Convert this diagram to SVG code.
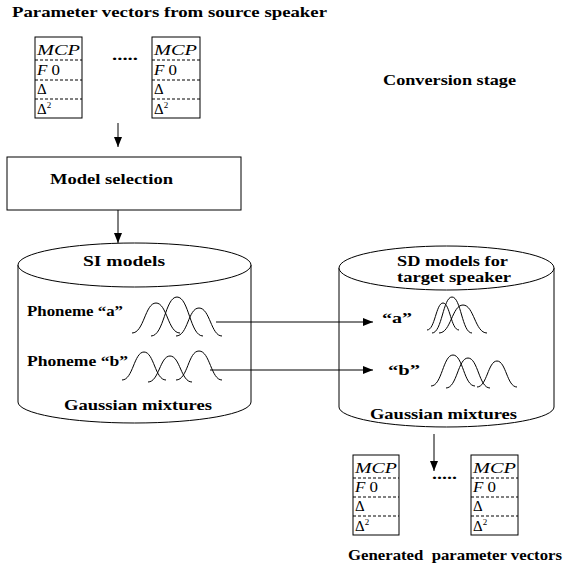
<svg xmlns="http://www.w3.org/2000/svg" width="575" height="570" viewBox="0 0 575 570">
<defs>
<marker id="ah" markerUnits="userSpaceOnUse" markerWidth="10" markerHeight="8" refX="10" refY="4" orient="auto">
<path d="M0,0 L10,4 L0,8 z" fill="#000"/>
</marker>
</defs>
<style>
.t{font-family:"Liberation Serif","Times New Roman",serif;font-weight:bold;font-size:14px;fill:#000}
.v{font-family:"Liberation Serif","Times New Roman",serif;font-size:15px;fill:#000}
.i{font-style:italic}
.box{fill:#fff;stroke:#000;stroke-width:1}
.dash{stroke:#000;stroke-width:1;stroke-dasharray:3,2}
.ln{fill:none;stroke:#000;stroke-width:1}
.g{fill:none;stroke:#000;stroke-width:1}
.cyl{fill:#fff;stroke:#000;stroke-width:1}
</style>
<rect width="575" height="570" fill="#fff"/>

<text class="t" x="12" y="17" textLength="315" lengthAdjust="spacingAndGlyphs">Parameter vectors from source speaker</text>
<text class="t" x="383" y="85" textLength="133" lengthAdjust="spacingAndGlyphs">Conversion stage</text>

<g id="src-vec-1">
<rect class="box" x="35" y="37" width="47" height="81"/>
<line class="dash" x1="35" y1="60" x2="82" y2="60"/>
<line class="dash" x1="35" y1="80" x2="82" y2="80"/>
<line class="dash" x1="35" y1="99" x2="82" y2="99"/>
<text class="v i" x="37" y="55" textLength="43" lengthAdjust="spacingAndGlyphs">MCP</text>
<text class="v" x="37" y="75" textLength="23" lengthAdjust="spacingAndGlyphs"><tspan class="i">F</tspan> 0</text>
<text class="v" x="37" y="94">Δ</text>
<text class="v" x="37" y="114">Δ<tspan font-size="9" dy="-6">2</tspan></text>
</g>
<g id="src-dots"><text class="t" x="112" y="60" textLength="26" lengthAdjust="spacingAndGlyphs">.....</text></g>
<g id="src-vec-2">
<rect class="box" x="152" y="37" width="48" height="81"/>
<line class="dash" x1="152" y1="60" x2="200" y2="60"/>
<line class="dash" x1="152" y1="80" x2="200" y2="80"/>
<line class="dash" x1="152" y1="99" x2="200" y2="99"/>
<text class="v i" x="154" y="55" textLength="43" lengthAdjust="spacingAndGlyphs">MCP</text>
<text class="v" x="154" y="75" textLength="23" lengthAdjust="spacingAndGlyphs"><tspan class="i">F</tspan> 0</text>
<text class="v" x="154" y="94">Δ</text>
<text class="v" x="154" y="114">Δ<tspan font-size="9" dy="-6">2</tspan></text>
</g>

<g id="model-selection">
<rect class="box" x="7" y="157" width="234" height="53"/>
<text class="t" x="50" y="184" textLength="123" lengthAdjust="spacingAndGlyphs">Model selection</text>
</g>

<g id="si-models">
<path class="cyl" d="M18,265 L18,402 A116.5,21 0 0 0 251,402 L251,265"/>
<ellipse class="cyl" cx="134.5" cy="265" rx="116.5" ry="22"/>
<text class="t" x="83" y="266" textLength="82" lengthAdjust="spacingAndGlyphs">SI models</text>
<text class="t" x="27" y="316" textLength="96" lengthAdjust="spacingAndGlyphs">Phoneme “a”</text>
<text class="t" x="27" y="366" textLength="101" lengthAdjust="spacingAndGlyphs">Phoneme “b”</text>
<text class="t" x="64" y="410" textLength="148" lengthAdjust="spacingAndGlyphs">Gaussian mixtures</text>
<path class="g" d="M132,333 C144,333 145,303 156,303 C167,303 168,333 180,333"/>
<path class="g" d="M151,336 C164,336 165,297 177,297 C189,297 190,336 203,336"/>
<path class="g" d="M176,336 C188,336 188,308 199,308 C210,308 211,336 222,336"/>
<path class="g" d="M122,380 C133,380 134,352 144,352 C154,352 155,380 166,380"/>
<path class="g" d="M148,382 C159,382 160,356 170,356 C180,356 181,382 192,382"/>
<path class="g" d="M176,380 C188,380 188,351 199,351 C210,351 211,380 222,380"/>
</g>

<g id="sd-models">
<path class="cyl" d="M339,268 L339,407 A107.5,20 0 0 0 554,407 L554,268"/>
<ellipse class="cyl" cx="446.5" cy="268" rx="107.5" ry="22"/>
<text class="t" x="397" y="266" textLength="111" lengthAdjust="spacingAndGlyphs">SD models for</text>
<text class="t" x="397" y="282" textLength="114" lengthAdjust="spacingAndGlyphs">target speaker</text>
<text class="t" x="382" y="323" textLength="30" lengthAdjust="spacingAndGlyphs">“a”</text>
<text class="t" x="388" y="375" textLength="32" lengthAdjust="spacingAndGlyphs">“b”</text>
<text class="t" x="370" y="419" textLength="147" lengthAdjust="spacingAndGlyphs">Gaussian mixtures</text>
<path class="g" d="M427,330 C435,330 436,303 443,303 C450,303 451,330 459,330"/>
<path class="g" d="M432,333 C442,333 443,297 452,297 C461,297 462,333 472,333"/>
<path class="g" d="M439,333 C451,333 452,305 463,305 C474,305 475,333 487,333"/>
<path class="g" d="M431,386 C442,386 443,355 453,355 C463,355 464,386 475,386"/>
<path class="g" d="M446,388 C457,388 458,358 468,358 C478,358 479,388 490,388"/>
<path class="g" d="M477,387 C487,387 488,361 497,361 C506,361 507,387 517,387"/>
</g>

<g id="gen-vec-1">
<rect class="box" x="353" y="455" width="46" height="80"/>
<line class="dash" x1="353" y1="478" x2="399" y2="478"/>
<line class="dash" x1="353" y1="497" x2="399" y2="497"/>
<line class="dash" x1="353" y1="516" x2="399" y2="516"/>
<text class="v i" x="355" y="473" textLength="42" lengthAdjust="spacingAndGlyphs">MCP</text>
<text class="v" x="355" y="492" textLength="23" lengthAdjust="spacingAndGlyphs"><tspan class="i">F</tspan> 0</text>
<text class="v" x="355" y="511">Δ</text>
<text class="v" x="355" y="531">Δ<tspan font-size="9" dy="-6">2</tspan></text>
</g>
<g id="gen-dots"><text class="t" x="432" y="479" textLength="25" lengthAdjust="spacingAndGlyphs">.....</text></g>
<g id="gen-vec-2">
<rect class="box" x="471" y="455" width="47" height="80"/>
<line class="dash" x1="471" y1="478" x2="518" y2="478"/>
<line class="dash" x1="471" y1="497" x2="518" y2="497"/>
<line class="dash" x1="471" y1="516" x2="518" y2="516"/>
<text class="v i" x="473" y="473" textLength="43" lengthAdjust="spacingAndGlyphs">MCP</text>
<text class="v" x="473" y="492" textLength="23" lengthAdjust="spacingAndGlyphs"><tspan class="i">F</tspan> 0</text>
<text class="v" x="473" y="511">Δ</text>
<text class="v" x="473" y="531">Δ<tspan font-size="9" dy="-6">2</tspan></text>
</g>
<text class="t" x="348" y="560" textLength="214" lengthAdjust="spacingAndGlyphs">Generated&#160; parameter vectors</text>

<g id="connectors">
<line class="ln" x1="118" y1="123" x2="118" y2="147" marker-end="url(#ah)"/>
<line class="ln" x1="118" y1="210" x2="118" y2="243" marker-end="url(#ah)"/>
<line class="ln" x1="216" y1="322" x2="373" y2="322" marker-end="url(#ah)"/>
<line class="ln" x1="210" y1="370" x2="373" y2="370" marker-end="url(#ah)"/>
<line class="ln" x1="434" y1="434" x2="434" y2="471" marker-end="url(#ah)"/>
</g>
</svg>
